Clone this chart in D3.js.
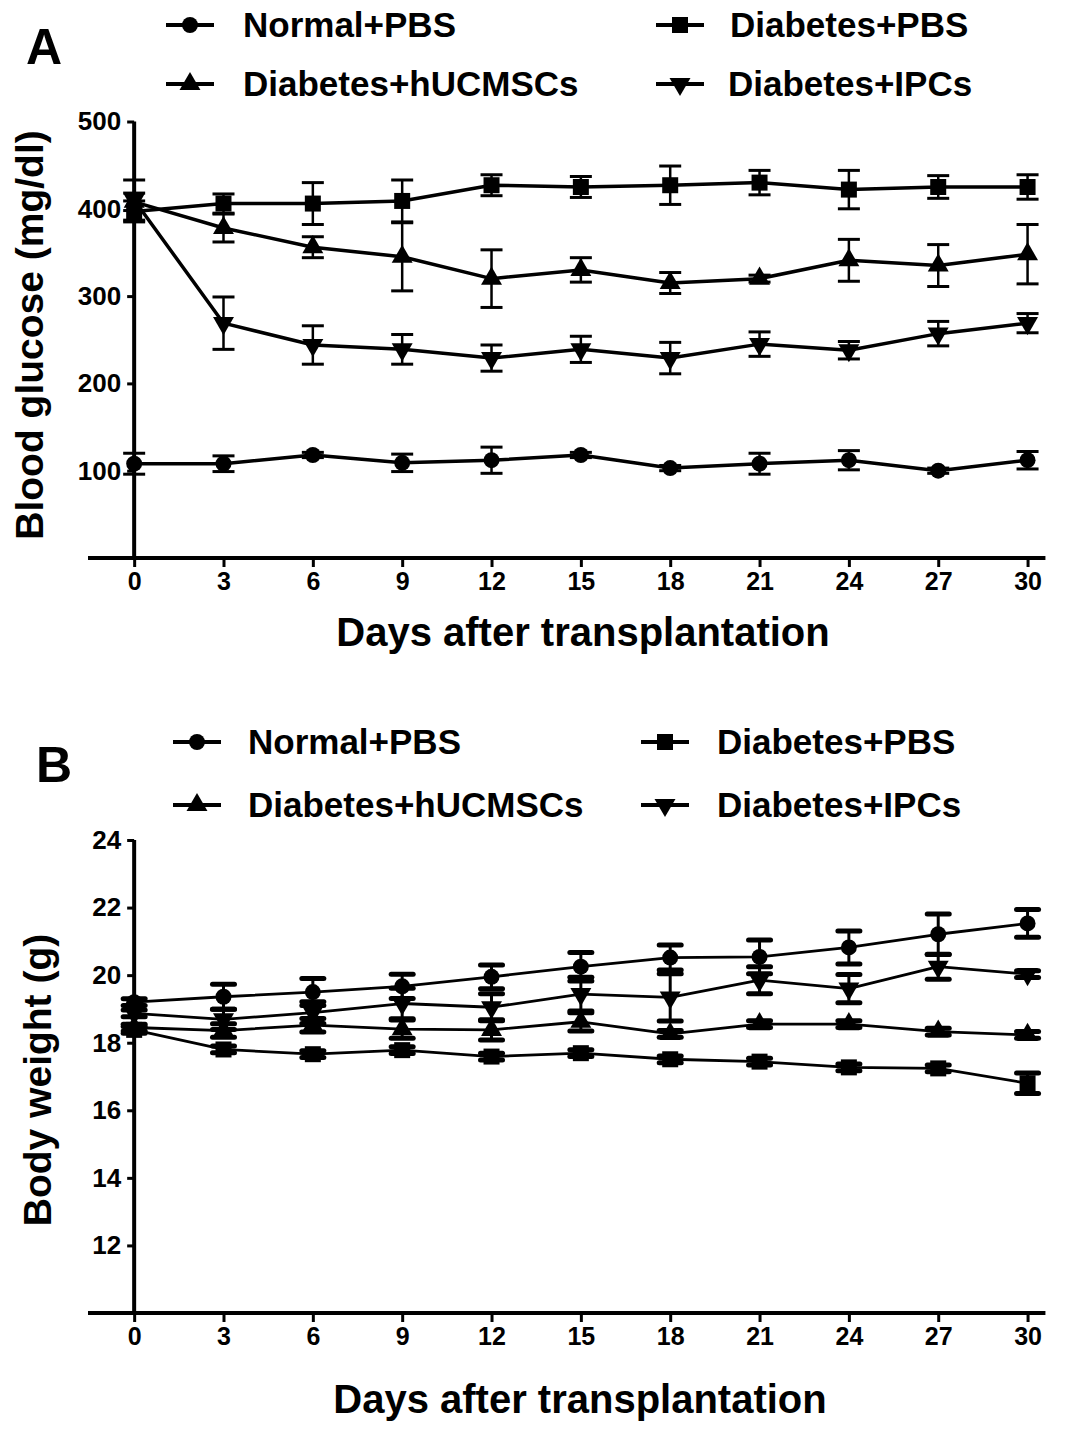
<!DOCTYPE html>
<html>
<head>
<meta charset="utf-8">
<script src="https://cdn.jsdelivr.net/npm/d3@7"></script>
<style>
  html, body { margin: 0; padding: 0; background: #fff; }
  svg { display: block; font-family: "Liberation Sans", Arial, sans-serif; font-weight: bold; }
</style>
</head>
<body>
<svg id="chart" width="1087" height="1436"></svg>
<script>
// ---------- data ----------
const days = [0, 3, 6, 9, 12, 15, 18, 21, 24, 27, 30];
const xTickLabels = ["0", "3", "6", "9", "12", "15", "18", "21", "24", "27", "30"];
const seriesNames = ["Normal+PBS", "Diabetes+PBS", "Diabetes+hUCMSCs", "Diabetes+IPCs"];

// Panel A: blood glucose (mg/dl)
const glucoseNormal      = [108, 108, 118, 109, 112, 118, 103, 108, 112, 100, 112];
const glucoseNormalErr   = [12, 9, 3, 10, 15, 3, 3, 12, 11, 3, 10];
const glucoseDiabetes    = [397, 406, 406, 409, 427, 425, 427, 430, 422, 425, 425];
const glucoseDiabetesErr = [12, 11, 24, 24, 12, 12, 22, 14, 22, 13, 14];
const glucoseHUC         = [408, 378, 356, 345, 320, 330, 315, 320, 341, 335, 348];
const glucoseHUCErr      = [10, 16, 12, 39, 33, 14, 12, 4, 24, 24, 34];
const glucoseIPC         = [410, 269, 244, 239, 229, 239, 229, 245, 238, 257, 269];
const glucoseIPCErr      = [23, 30, 22, 17, 15, 15, 18, 14, 10, 14, 11];
const glucoseTicks       = [100, 200, 300, 400, 500];

// Panel B: body weight (g)
const weightNormal      = [19.2, 19.36, 19.5, 19.67, 19.95, 20.25, 20.52, 20.54, 20.82, 21.21, 21.53];
const weightNormalErr   = [0.1, 0.37, 0.4, 0.36, 0.35, 0.42, 0.37, 0.5, 0.49, 0.6, 0.41];
const weightDiabetes    = [18.38, 17.8, 17.66, 17.78, 17.59, 17.69, 17.51, 17.44, 17.27, 17.24, 16.8];
const weightDiabetesErr = [0.1, 0.1, 0.1, 0.1, 0.1, 0.1, 0.1, 0.1, 0.1, 0.1, 0.3];
const weightHUC         = [18.45, 18.36, 18.52, 18.4, 18.38, 18.62, 18.26, 18.55, 18.55, 18.33, 18.23];
const weightHUCErr      = [0.1, 0.2, 0.2, 0.27, 0.3, 0.27, 0.1, 0.1, 0.1, 0.1, 0.1];
const weightIPC         = [18.87, 18.69, 18.89, 19.16, 19.05, 19.44, 19.34, 19.85, 19.6, 20.25, 20.03];
const weightIPCErr      = [0.1, 0.3, 0.32, 0.45, 0.4, 0.5, 0.7, 0.4, 0.42, 0.37, 0.1];
const weightTicks       = [12, 14, 16, 18, 20, 22, 24];

// ---------- drawing ----------
const svg = d3.select("#chart");
const symbolTypes = [d3.symbolCircle, d3.symbolSquare, d3.symbolTriangle, d3.symbolTriangle];
const symbolSizes = [200, 256, 190, 190];
const symbolRot   = [0, 0, 0, 180];

function drawSymbol(g, i, x, y, scale) {
  const s = scale || 1;
  g.append("path")
    .attr("d", d3.symbol().type(symbolTypes[i]).size(symbolSizes[i] * s)())
    .attr("transform", `translate(${x},${y}) rotate(${symbolRot[i]})`)
    .attr("fill", "#000");
}

function panel(cfg) {
  const g = svg.append("g");
  const x = d3.scaleLinear().domain([-1.55, 30.6]).range([88, 88 + 32.15 * 29.78]);
  const y = d3.scaleLinear().domain(cfg.yDomain).range([cfg.yBottom, cfg.yTop]);
  const x0 = x(0);

  // x axis
  const xAxis = d3.axisBottom(x).tickValues(days).tickFormat((d, i) => xTickLabels[i]).tickSize(9).tickPadding(5);
  const gx = g.append("g").attr("transform", `translate(0,${cfg.yBottom})`).call(xAxis);
  gx.select(".domain").attr("d", `M${x.range()[0]},0H${x.range()[1]}`).attr("stroke-width", 4);
  gx.selectAll(".tick line").attr("stroke-width", 3);
  gx.selectAll("text").attr("font-size", 25).attr("font-weight", "bold").attr("fill", "#000")
    .attr("font-family", "Liberation Sans, Arial, sans-serif");

  // y axis
  const yAxis = d3.axisLeft(y).tickValues(cfg.yTicks).tickSize(7).tickPadding(6);
  const gy = g.append("g").attr("transform", `translate(${x0},0)`).call(yAxis);
  gy.select(".domain").attr("d", `M0,${cfg.yBottom}V${cfg.yTop}`).attr("stroke-width", 4);
  gy.selectAll(".tick line").attr("stroke-width", 3);
  gy.selectAll("text").attr("font-size", 26).attr("font-weight", "bold").attr("fill", "#000")
    .attr("font-family", "Liberation Sans, Arial, sans-serif");

  // series
  const line = d3.line().x((d, i) => x(days[i])).y(d => y(d));
  cfg.series.forEach((s, si) => {
    g.append("path").datum(s.v).attr("d", line).attr("fill", "none")
      .attr("stroke", "#000").attr("stroke-width", cfg.lineW).attr("stroke-linejoin", "round");
  });
  cfg.series.forEach((s, si) => {
    s.v.forEach((v, i) => {
      const cx = x(days[i]);
      const yt = y(v + s.e[i]), yb = y(v - s.e[i]);
      g.append("line").attr("x1", cx).attr("x2", cx).attr("y1", yt).attr("y2", yb)
        .attr("stroke", "#000").attr("stroke-width", cfg.errW);
      [yt, yb].forEach(yy => g.append("line").attr("x1", cx - 11).attr("x2", cx + 11)
        .attr("y1", yy).attr("y2", yy).attr("stroke", "#000").attr("stroke-width", cfg.capW)
        .attr("stroke-linecap", cfg.capRound ? "round" : "butt"));
    });
  });
  cfg.series.forEach((s, si) => {
    s.v.forEach((v, i) => drawSymbol(g, si, x(days[i]), y(v)));
  });

  // axis titles
  g.append("text").attr("x", cfg.xTitleX).attr("y", cfg.xTitleY).attr("text-anchor", "middle")
    .attr("font-size", 40).attr("font-weight", "bold").text("Days after transplantation");
  g.append("text").attr("transform", `translate(${cfg.yTitleX},${cfg.yTitleY}) rotate(-90)`)
    .attr("text-anchor", "middle").attr("font-size", 39).attr("font-weight", "bold").text(cfg.yTitle);

  // panel letter
  g.append("text").attr("x", cfg.letterX).attr("y", cfg.letterY).attr("font-size", 50)
    .attr("font-weight", "bold").text(cfg.letter);

  // legend
  cfg.legend.forEach((L, i) => {
    const lg = g.append("g");
    lg.append("line").attr("x1", L.mx - 24).attr("x2", L.mx + 24).attr("y1", L.y).attr("y2", L.y)
      .attr("stroke", "#000").attr("stroke-width", 4);
    drawSymbol(lg, i, L.mx, L.y);
    lg.append("text").attr("x", L.tx).attr("y", L.y + 12).attr("font-size", 35)
      .attr("font-weight", "bold").text(seriesNames[i]);
  });
}

panel({
  letter: "A", letterX: 26, letterY: 64,
  yDomain: [0, 500], yBottom: 558, yTop: 121.5, yTicks: glucoseTicks,
  yTitle: "Blood glucose (mg/dl)", yTitleX: 43, yTitleY: 335,
  xTitleX: 583, xTitleY: 646,
  lineW: 3.5, errW: 2.5, capW: 3, capRound: false,
  series: [
    { v: glucoseNormal, e: glucoseNormalErr },
    { v: glucoseDiabetes, e: glucoseDiabetesErr },
    { v: glucoseHUC, e: glucoseHUCErr },
    { v: glucoseIPC, e: glucoseIPCErr }
  ],
  legend: [
    { mx: 190, tx: 243, y: 25 },
    { mx: 680, tx: 730, y: 25 },
    { mx: 190, tx: 243, y: 84 },
    { mx: 680, tx: 728, y: 84 }
  ]
});

panel({
  letter: "B", letterX: 36, letterY: 782,
  yDomain: [10, 24], yBottom: 1313, yTop: 840, yTicks: weightTicks,
  yTitle: "Body weight (g)", yTitleX: 51, yTitleY: 1080,
  xTitleX: 580, xTitleY: 1413,
  lineW: 2.8, errW: 3, capW: 5, capRound: true,
  series: [
    { v: weightNormal, e: weightNormalErr },
    { v: weightDiabetes, e: weightDiabetesErr },
    { v: weightHUC, e: weightHUCErr },
    { v: weightIPC, e: weightIPCErr }
  ],
  legend: [
    { mx: 197, tx: 248, y: 742 },
    { mx: 665, tx: 717, y: 742 },
    { mx: 197, tx: 248, y: 805 },
    { mx: 665, tx: 717, y: 805 }
  ]
});
</script>
</body>
</html>
